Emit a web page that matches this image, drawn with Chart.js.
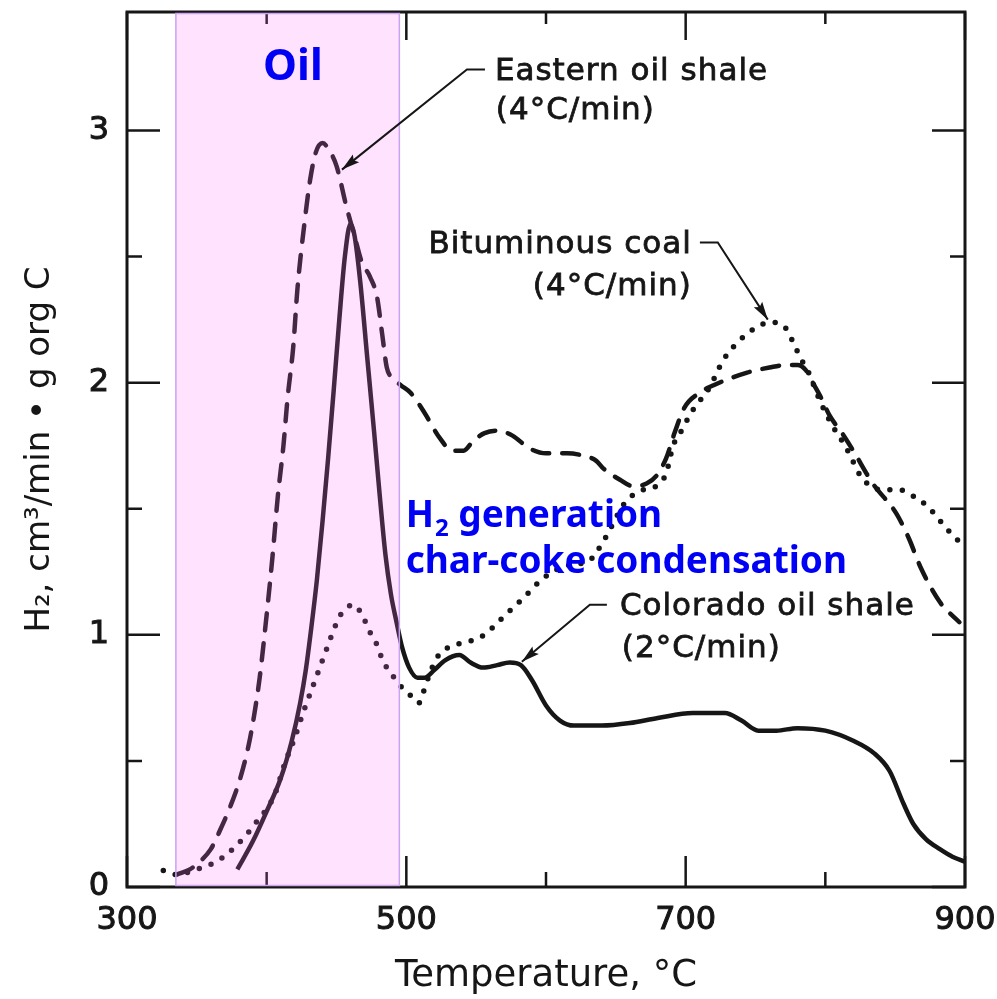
<!DOCTYPE html>
<html>
<head>
<meta charset="utf-8">
<title>H2 evolution</title>
<script src="https://cdn.jsdelivr.net/npm/chart.js@4.4.1/dist/chart.umd.min.js"></script>
<style>
  html, body { margin: 0; padding: 0; background: #fff; }
  #wrap { width: 997px; height: 999px; }
</style>
</head>
<body>
<div id="wrap"><canvas id="h2Chart" width="997" height="999"></canvas></div>
<script>
// H2 evolution rate (cm3/min per g organic C) against temperature (°C)
const COLORADO_T  = [379, 390, 400, 410, 418, 424, 428, 432, 436, 440, 444, 448, 452, 456, 460, 463, 467, 472, 477, 481, 485, 489, 493, 497, 502, 508, 513, 520, 528, 538, 546, 555, 565, 574, 582, 590, 600, 610, 620, 640, 660, 680, 705, 728, 740, 752, 765, 780, 800, 820, 835, 846, 856, 863, 872, 882, 891, 900];
const COLORADO_H2 = [0.07, 0.18, 0.30, 0.43, 0.58, 0.73, 0.86, 1.03, 1.22, 1.45, 1.70, 1.97, 2.25, 2.50, 2.63, 2.58, 2.40, 2.10, 1.80, 1.55, 1.32, 1.16, 1.05, 0.95, 0.87, 0.83, 0.83, 0.86, 0.90, 0.92, 0.89, 0.87, 0.88, 0.89, 0.88, 0.82, 0.72, 0.66, 0.64, 0.64, 0.65, 0.67, 0.69, 0.69, 0.66, 0.62, 0.62, 0.63, 0.62, 0.58, 0.53, 0.46, 0.33, 0.25, 0.19, 0.15, 0.12, 0.10];

const EASTERN_T  = [336, 345, 352, 360, 367, 374, 381, 387, 391, 395, 400, 404, 408, 412, 415, 419, 422, 427, 431, 435, 440, 445, 450, 457, 463, 468, 474, 479, 483, 486, 490, 496, 503, 512, 524, 533, 541, 548, 556, 565, 576, 588, 600, 615, 627, 636, 641, 653, 662, 672, 679, 686, 692, 699, 710, 720, 744, 760, 772, 780, 786, 791, 797, 803, 812, 820, 834, 851, 860, 868, 882, 896];
const EASTERN_H2 = [0.05, 0.07, 0.10, 0.15, 0.23, 0.32, 0.43, 0.56, 0.68, 0.83, 1.08, 1.30, 1.55, 1.75, 1.94, 2.14, 2.37, 2.63, 2.80, 2.91, 2.95, 2.92, 2.86, 2.70, 2.58, 2.48, 2.42, 2.34, 2.18, 2.06, 2.02, 1.99, 1.96, 1.89, 1.78, 1.73, 1.73, 1.77, 1.80, 1.81, 1.79, 1.74, 1.72, 1.72, 1.71, 1.69, 1.66, 1.615, 1.59, 1.60, 1.63, 1.70, 1.80, 1.90, 1.96, 1.99, 2.04, 2.06, 2.07, 2.07, 2.05, 2.00, 1.94, 1.87, 1.80, 1.73, 1.60, 1.48, 1.38, 1.27, 1.13, 1.05];

const COAL_T  = [326, 334, 345, 355, 362, 371, 378, 386, 393, 400, 406, 413, 420, 426, 432, 436, 440, 444, 448, 453, 458, 462, 466, 470, 474, 479, 483, 490, 497, 503, 509, 512, 517, 522, 530, 542, 553, 562, 571, 579, 588, 597, 608, 620, 630, 641, 646, 656, 667, 679, 686, 691, 696, 705, 717, 727, 741, 751, 760, 771, 777, 782, 788, 796, 805, 813, 818, 823, 830, 841, 853, 863, 873, 887, 894, 900];
const COAL_H2 = [0.065, 0.05, 0.06, 0.08, 0.095, 0.127, 0.163, 0.21, 0.26, 0.31, 0.37, 0.49, 0.59, 0.69, 0.78, 0.84, 0.90, 0.96, 1.02, 1.08, 1.11, 1.12, 1.10, 1.06, 1.01, 0.96, 0.90, 0.84, 0.79, 0.76, 0.73, 0.77, 0.85, 0.91, 0.95, 0.97, 0.99, 1.03, 1.08, 1.12, 1.17, 1.22, 1.26, 1.28, 1.29, 1.37, 1.42, 1.52, 1.57, 1.59, 1.64, 1.75, 1.80, 1.89, 1.98, 2.09, 2.18, 2.22, 2.24, 2.22, 2.16, 2.10, 2.04, 1.93, 1.83, 1.76, 1.71, 1.65, 1.60, 1.575, 1.575, 1.55, 1.51, 1.42, 1.38, 1.35];

const TEMP_TICKS  = [300, 400, 500, 600, 700, 800, 900];
const TEMP_LABELS = [300, 500, 700, 900];
const H2_TICKS    = [0, 0.5, 1, 1.5, 2, 2.5, 3];
const H2_LABELS   = [0, 1, 2, 3];
const OIL_WINDOW  = [335, 495];

// callouts, in data units (°C, H2)
const CALLOUTS = [
  { lines: [['Eastern oil shale', 563.4, 3.202], ['(4°C/min)', 564.1, 3.044]], align: 'left',
    leader: [[556.3, 3.242], [543.4, 3.242], [453.9, 2.845]] },
  { lines: [['Bituminous coal', 704.4, 2.516], ['(4°C/min)', 704.4, 2.349]], align: 'right',
    leader: [[710.2, 2.556], [723.0, 2.556], [758.8, 2.25]] },
  { lines: [['Colorado oil shale', 652.9, 1.079], ['(2°C/min)', 654.3, 0.913]], align: 'left',
    leader: [[643.6, 1.119], [631.4, 1.119], [582.7, 0.893]] }
];
const OIL_LABEL = ['Oil', 397.4, 3.202];
const STAGE_LABEL = [['generation', 499.5, 1.429], ['char-coke condensation', 499.5, 1.246]];

const INK = '#161616';
const toPoints = (xs, ys) => xs.map((x, i) => ({ x: x, y: ys[i] }));

// frame with inward ticks, pink window, callouts
const decorations = {
  id: 'decorations',
  afterDatasetsDraw(chart) {
    const ctx = chart.ctx;
    const xs = chart.scales.x, ys = chart.scales.y;
    const { left, right, top, bottom } = chart.chartArea;
    const px = v => xs.getPixelForValue(v);
    const py = v => ys.getPixelForValue(v);

    ctx.save();
    ctx.strokeStyle = INK;
    ctx.lineWidth = 3;
    ctx.strokeRect(left, top, right - left, bottom - top);
    ctx.lineWidth = 2.5;
    ctx.beginPath();
    TEMP_TICKS.forEach(t => {
      const len = TEMP_LABELS.includes(t) ? 31 : 15;
      ctx.moveTo(px(t), bottom); ctx.lineTo(px(t), bottom - len);
      ctx.moveTo(px(t), top); ctx.lineTo(px(t), top + len - 3);
    });
    H2_TICKS.forEach(h => {
      const len = H2_LABELS.includes(h) ? 33 : 15;
      ctx.moveTo(left, py(h)); ctx.lineTo(left + len, py(h));
      ctx.moveTo(right, py(h)); ctx.lineTo(right - len, py(h));
    });
    ctx.stroke();

    // oil generation window
    const x0 = px(OIL_WINDOW[0]), x1 = px(OIL_WINDOW[1]);
    ctx.fillStyle = 'rgba(250, 110, 250, 0.2)';
    ctx.fillRect(x0, top + 1.5, x1 - x0, bottom - top - 3);
    ctx.strokeStyle = '#c9a2f2';
    ctx.lineWidth = 1.5;
    ctx.strokeRect(x0, top + 1.5, x1 - x0, bottom - top - 3);

    // callout text and leader arrows
    ctx.fillStyle = INK;
    ctx.strokeStyle = INK;
    ctx.font = '31px "DejaVu Sans"';
    ctx.letterSpacing = '1px';
    ctx.textBaseline = 'alphabetic';
    CALLOUTS.forEach(c => {
      ctx.textAlign = c.align;
      ctx.lineWidth = 0.8;
      c.lines.forEach(([txt, t, h]) => {
        ctx.fillText(txt, px(t), py(h));
        ctx.strokeText(txt, px(t), py(h));
      });
      const pts = c.leader.map(([t, h]) => [px(t), py(h)]);
      ctx.lineWidth = 2;
      ctx.beginPath();
      ctx.moveTo(pts[0][0], pts[0][1]);
      pts.slice(1).forEach(p => ctx.lineTo(p[0], p[1]));
      ctx.stroke();
      const [ax, ay] = pts[pts.length - 1];
      const [bx, by] = pts[pts.length - 2];
      const ang = Math.atan2(ay - by, ax - bx);
      ctx.save();
      ctx.translate(ax, ay);
      ctx.rotate(ang);
      ctx.beginPath();
      ctx.moveTo(0, 0);
      ctx.lineTo(-18, -5);
      ctx.lineTo(-15, 0);
      ctx.lineTo(-18, 5);
      ctx.closePath();
      ctx.fill();
      ctx.restore();
    });

    // blue process labels
    ctx.letterSpacing = '0px';
    ctx.textAlign = 'left';
    ctx.fillStyle = '#0000f5';
    ctx.font = 'bold 43px "Noto Sans"';
    ctx.fillText(OIL_LABEL[0], px(OIL_LABEL[1]), py(OIL_LABEL[2]));

    ctx.font = 'bold 37px "Noto Sans"';
    const [genTxt, gt, gh] = STAGE_LABEL[0];
    let gx = px(gt);
    const gy = py(gh);
    ctx.fillText('H', gx, gy);
    gx += ctx.measureText('H').width + 1;
    ctx.font = 'bold 24px "Noto Sans"';
    ctx.fillText('2', gx, gy + 9);
    gx += ctx.measureText('2').width;
    ctx.font = 'bold 37px "Noto Sans"';
    ctx.fillText(' ' + genTxt, gx, gy);
    const [ccTxt, ct, ch] = STAGE_LABEL[1];
    ctx.fillText(ccTxt, px(ct), py(ch));
    ctx.restore();
  }
};

const lineBase = {
  borderColor: INK,
  pointRadius: 0,
  fill: false,
  cubicInterpolationMode: 'monotone'
};

const tickFont = { family: 'DejaVu Sans', size: 32 };

new Chart(document.getElementById('h2Chart'), {
  type: 'line',
  data: {
    datasets: [
      { ...lineBase, label: 'Bituminous coal (4°C/min)', data: toPoints(COAL_T, COAL_H2),
        borderWidth: 5.5, borderDash: [0, 12.5], borderCapStyle: 'round' },
      { ...lineBase, label: 'Eastern oil shale (4°C/min)', data: toPoints(EASTERN_T, EASTERN_H2),
        borderWidth: 4.5, borderDash: [17, 13], borderCapStyle: 'round' },
      { ...lineBase, label: 'Colorado oil shale (2°C/min)', data: toPoints(COLORADO_T, COLORADO_H2),
        borderWidth: 4.5 }
    ]
  },
  options: {
    responsive: false,
    animation: false,
    layout: { padding: { left: 0, top: 12, right: 32, bottom: 0 } },
    plugins: { legend: { display: false }, tooltip: { enabled: false } },
    scales: {
      x: {
        type: 'linear', min: 300, max: 900,
        grid: { display: false, drawTicks: false },
        border: { display: false },
        ticks: {
          stepSize: 100, autoSkip: false, maxRotation: 0, padding: 14, color: INK,
          font: tickFont, textStrokeColor: INK, textStrokeWidth: 1,
          callback: v => TEMP_LABELS.includes(v) ? String(v) : ''
        },
        title: {
          display: true, text: 'Temperature, °C', color: INK,
          font: { family: 'DejaVu Sans', size: 37 }, padding: { top: 0, bottom: 0 }
        },
        afterFit: s => { s.height = 112; s.paddingLeft = 0; s.paddingRight = 0; }
      },
      y: {
        min: 0, max: 3.47,
        grid: { display: false, drawTicks: false },
        border: { display: false },
        ticks: {
          stepSize: 0.5, autoSkip: false, padding: 18, color: INK,
          font: tickFont, textStrokeColor: INK, textStrokeWidth: 1,
          callback: v => H2_LABELS.includes(v) ? String(v) : ''
        },
        title: {
          display: true, text: 'H₂, cm³/min • g org C', color: INK,
          font: { family: 'DejaVu Sans', size: 34 }, padding: { top: 20, bottom: 0 }
        },
        afterFit: s => { s.width = 127; s.paddingTop = 0; s.paddingBottom = 0; }
      }
    }
  },
  plugins: [decorations]
});
</script>
</body>
</html>
